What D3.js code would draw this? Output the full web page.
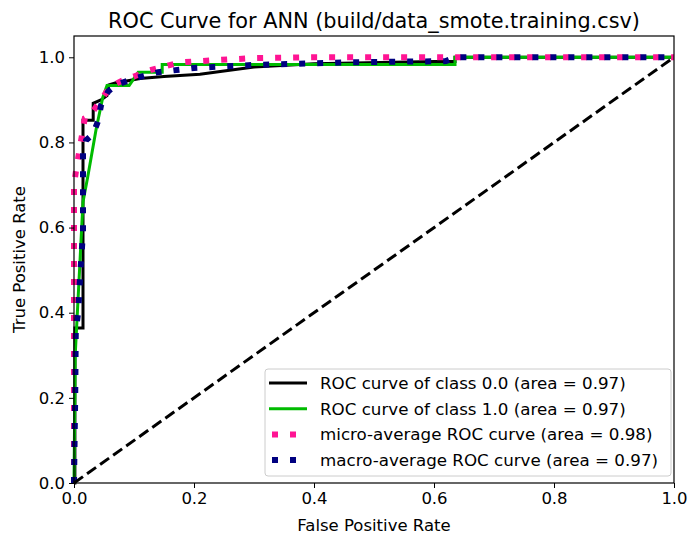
<!DOCTYPE html>
<html>
<head>
<meta charset="utf-8">
<script src="https://cdn.jsdelivr.net/npm/d3@7"></script>
<style>
  body { margin: 0; background: #fff; }
  text { font-family: "DejaVu Sans", sans-serif; fill: #000; }
</style>
</head>
<body>
<div id="chart"></div>
<script>
// ROC curve points [fpr, tpr]
var class0 = [[0,0],[0.0015,0],[0.0015,0.364],[0.015,0.364],[0.015,0.852],[0.032,0.852],[0.032,0.892],
  [0.045,0.9],[0.055,0.91],[0.058,0.935],[0.07,0.94],[0.09,0.945],[0.11,0.95],[0.15,0.955],[0.21,0.96],
  [0.25,0.968],[0.3,0.977],[0.4,0.985],[0.6,0.99],[0.635,0.99],[0.635,1],[1,1]];
var class1 = [[0,0],[0.002,0.3],[0.015,0.66],[0.023,0.72],[0.037,0.832],[0.048,0.906],[0.055,0.934],
  [0.092,0.934],[0.107,0.965],[0.147,0.965],[0.147,0.983],[0.635,0.983],[0.635,1],[1,1]];
var micro = [[0,0],[0,0.7],[0.003,0.73],[0.018,0.857],[0.027,0.864],[0.045,0.9],[0.06,0.93],[0.08,0.945],
  [0.1,0.955],[0.127,0.97],[0.177,0.988],[0.232,0.993],[0.3,0.998],[0.4,1],[1,1]];
var macro = [[0,0],[0.002,0.2],[0.003,0.36],[0.007,0.4],[0.01,0.48],[0.015,0.59],[0.015,0.775],[0.02,0.805],
  [0.032,0.82],[0.04,0.85],[0.045,0.887],[0.057,0.92],[0.07,0.935],[0.1,0.95],[0.14,0.965],[0.2,0.975],
  [0.3,0.982],[0.45,0.988],[0.62,0.991],[0.635,1],[1,1]];
var diagonal = [[0,0],[1,1]];

var seriesLabels = ["ROC curve of class 0.0 (area = 0.97)", "ROC curve of class 1.0 (area = 0.97)",
  "micro-average ROC curve (area = 0.98)", "macro-average ROC curve (area = 0.97)"];
var xTicks = [0, 0.2, 0.4, 0.6, 0.8, 1.0];
var yTicks = [0, 0.2, 0.4, 0.6, 0.8, 1.0];

var svgWidth = 690, svgHeight = 538;
var margin = { top: 36, right: 16, bottom: 55, left: 74 };
var width = svgWidth - margin.left - margin.right;
var height = svgHeight - margin.top - margin.bottom;

var svg = d3.select("#chart").append("svg")
  .attr("width", svgWidth)
  .attr("height", svgHeight);

var g = svg.append("g")
  .attr("transform", `translate(${margin.left},${margin.top})`);

var x = d3.scaleLinear().domain([0, 1]).range([0, width]);
var y = d3.scaleLinear().domain([0, 1.05]).range([height, 0]);

var line = d3.line().x(d => x(d[0])).y(d => y(d[1]));

g.append("clipPath").attr("id", "clip")
  .append("rect").attr("x", -4).attr("y", 0).attr("width", width + 4).attr("height", height + 4);

var plot = g.append("g").attr("clip-path", "url(#clip)");

// series drawn in the original order
plot.append("path").datum(class0).attr("d", line)
  .attr("fill", "none").attr("stroke", "#000").attr("stroke-width", 3);
plot.append("path").datum(class1).attr("d", line)
  .attr("fill", "none").attr("stroke", "#00bb00").attr("stroke-width", 3);
plot.append("path").datum(micro).attr("d", line)
  .attr("fill", "none").attr("stroke", "deeppink").attr("stroke-width", 6)
  .attr("stroke-dasharray", "6,12");
plot.append("path").datum(macro).attr("d", line)
  .attr("fill", "none").attr("stroke", "navy").attr("stroke-width", 6)
  .attr("stroke-dasharray", "6,12");
plot.append("path").datum(diagonal).attr("d", line)
  .attr("fill", "none").attr("stroke", "#000").attr("stroke-width", 3)
  .attr("stroke-dasharray", "11,5");

// axes
var xAxis = g.append("g")
  .attr("transform", `translate(0,${height})`)
  .call(d3.axisBottom(x).tickValues(xTicks).tickFormat(d3.format(".1f")).tickSizeOuter(0).tickSize(5).tickPadding(4));
var yAxis = g.append("g")
  .call(d3.axisLeft(y).tickValues(yTicks).tickFormat(d3.format(".1f")).tickSizeOuter(0).tickSize(5).tickPadding(4));
[xAxis, yAxis].forEach(function (a) {
  a.selectAll("text").style("font-size", "16.5px").style("font-family", "DejaVu Sans");
  a.select(".domain").remove();
  a.selectAll("line").attr("stroke", "#000").attr("stroke-width", 1);
});

// frame
g.append("rect").attr("width", width).attr("height", height)
  .attr("fill", "none").attr("stroke", "#000").attr("stroke-width", 1.2);

// labels
svg.append("text")
  .attr("x", margin.left + width / 2).attr("y", 28)
  .attr("text-anchor", "middle").style("font-size", "20.8px")
  .text("ROC Curve for ANN (build/data_smote.training.csv)");
svg.append("text")
  .attr("x", margin.left + width / 2).attr("y", 531)
  .attr("text-anchor", "middle").style("font-size", "16.5px")
  .text("False Positive Rate");
svg.append("text")
  .attr("transform", `translate(25,${margin.top + height / 2}) rotate(-90)`)
  .attr("text-anchor", "middle").style("font-size", "16.5px")
  .text("True Positive Rate");

// legend
var legend = svg.append("g").attr("transform", "translate(265,369)");
legend.append("rect").attr("width", 406).attr("height", 107).attr("rx", 3)
  .attr("fill", "#fff").attr("fill-opacity", 0.8).attr("stroke", "#ccc");
var legendStyles = [
  { color: "#000", w: 3, dash: null },
  { color: "#00bb00", w: 3, dash: null },
  { color: "deeppink", w: 6, dash: "6,12" },
  { color: "navy", w: 6, dash: "6,12" }
];
seriesLabels.forEach(function (label, i) {
  var row = legend.append("g").attr("transform", `translate(0,${14 + i * 25.7})`);
  var s = legendStyles[i];
  var l = row.append("line").attr("x1", 4).attr("x2", 42).attr("y1", 0).attr("y2", 0)
    .attr("stroke", s.color).attr("stroke-width", s.w);
  if (s.dash) l.attr("x1", 7).attr("stroke-dasharray", s.dash);
  row.append("text").attr("x", 55).attr("y", 6).style("font-size", "16.7px").text(label);
});
</script>
</body>
</html>
